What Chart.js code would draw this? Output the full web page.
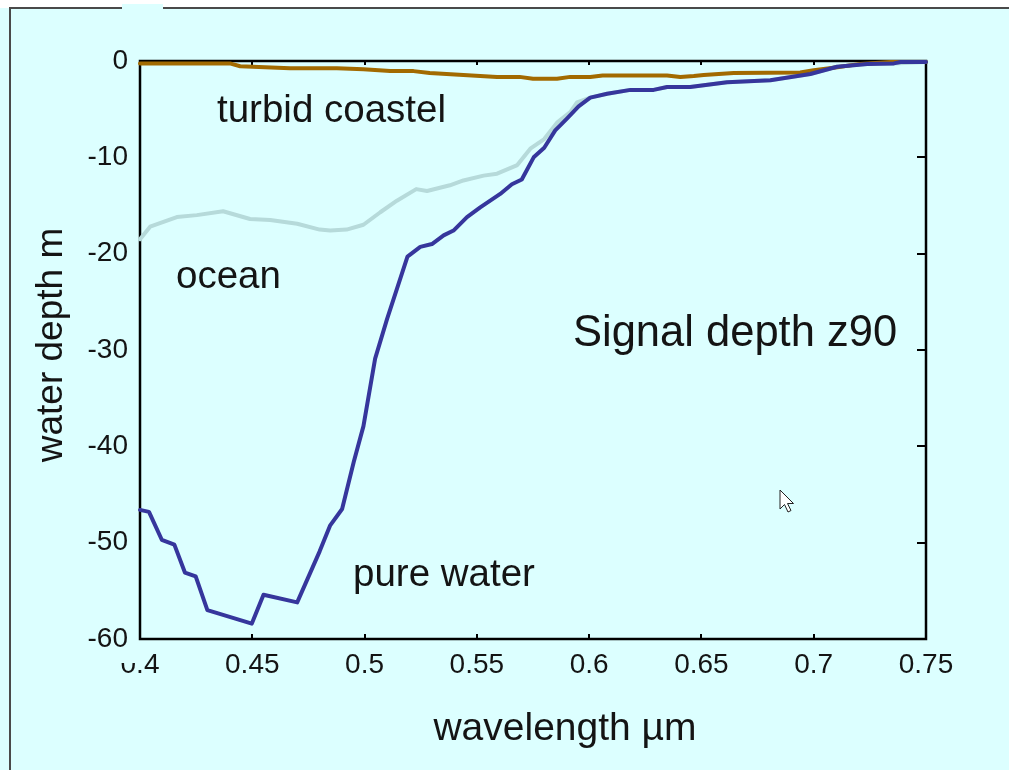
<!DOCTYPE html>
<html>
<head>
<meta charset="utf-8">
<script src="https://cdn.jsdelivr.net/npm/chart.js@4.4.1/dist/chart.umd.min.js"></script>
<style>
  html, body { margin: 0; padding: 0; background: #dcffff; }
  canvas { display: block; }
</style>
</head>
<body>
<canvas id="chart-z90" width="1009" height="770"></canvas>
<script>
// signal depth z90 (m) vs wavelength (µm)
const xTicks = [0.4, 0.45, 0.5, 0.55, 0.6, 0.65, 0.7, 0.75];
const xTickLabels = ['0.4', '0.45', '0.5', '0.55', '0.6', '0.65', '0.7', '0.75'];
const yTicks = [0, -10, -20, -30, -40, -50, -60];
const yTickLabels = ['0', '-10', '-20', '-30', '-40', '-50', '-60'];

const pureWaterWl = [0.400, 0.404, 0.4097, 0.4153, 0.420, 0.4248, 0.430, 0.4498, 0.455, 0.470, 0.480, 0.4847, 0.490,
  0.4952, 0.4995, 0.5047, 0.510, 0.5191, 0.5248, 0.530, 0.5352, 0.5396, 0.5456, 0.5515, 0.5604, 0.5656, 0.570,
  0.5753, 0.580, 0.5849, 0.590, 0.5953, 0.6005, 0.608, 0.6184, 0.6287, 0.6347, 0.645, 0.6614, 0.6807, 0.6985,
  0.7104, 0.7238, 0.7357, 0.7387, 0.750];
const pureWaterDepth = [-46.6, -46.8, -49.7, -50.2, -53.1, -53.5, -57.0, -58.4, -55.4, -56.2, -50.9, -48.2, -46.5,
  -41.6, -37.9, -30.9, -26.8, -20.3, -19.3, -19.0, -18.1, -17.6, -16.2, -15.2, -13.8, -12.8, -12.3,
  -10.0, -9.0, -7.2, -6.0, -4.7, -3.8, -3.4, -3.0, -3.0, -2.7, -2.7, -2.2, -2.0, -1.35,
  -0.6, -0.3, -0.25, -0.1, -0.1];

const oceanWl = [0.400, 0.4045, 0.4164, 0.4253, 0.437, 0.449, 0.458, 0.470, 0.480, 0.4847, 0.492, 0.4995, 0.507,
  0.5144, 0.523, 0.5278, 0.538, 0.544, 0.553, 0.559, 0.568, 0.5738, 0.580, 0.5857, 0.5916, 0.5946, 0.6005,
  0.608, 0.6184, 0.6287, 0.6347, 0.645, 0.6614, 0.6807, 0.6985, 0.7104, 0.7238, 0.7357, 0.750];
const oceanDepth = [-18.5, -17.2, -16.2, -16.0, -15.6, -16.4, -16.5, -16.9, -17.5, -17.6, -17.5, -17.0, -15.7,
  -14.5, -13.3, -13.5, -12.9, -12.4, -11.9, -11.7, -10.8, -9.1, -8.1, -6.4, -5.3, -4.3, -3.8,
  -3.4, -3.0, -3.0, -2.7, -2.7, -2.2, -2.0, -1.35, -0.6, -0.3, -0.25, -0.1];

const turbidWl = [0.400, 0.440, 0.4446, 0.4668, 0.4877, 0.4995, 0.5114, 0.5218, 0.529, 0.544, 0.559, 0.569, 0.575,
  0.5857, 0.5916, 0.6005, 0.606, 0.6347, 0.6406, 0.6466, 0.651, 0.6644, 0.694, 0.700, 0.7105, 0.7208, 0.7342, 0.750];
const turbidDepth = [-0.25, -0.25, -0.55, -0.75, -0.75, -0.85, -1.05, -1.05, -1.25, -1.45, -1.65, -1.65, -1.85,
  -1.85, -1.65, -1.65, -1.5, -1.5, -1.65, -1.55, -1.45, -1.25, -1.2, -0.95, -0.65, -0.3, -0.1, -0.1];

const COLORS = {
  page: '#dcffff',
  pure: '#36369c',
  ocean: '#b6dada',
  turbid: '#a26a00',
  ink: '#141414',
};
const FONT = '"Liberation Sans", Arial, sans-serif';

const toPoints = (xs, ys) => xs.map((x, i) => ({ x, y: ys[i] }));

// page background, the window frame and the plot frame with inward ticks
const framePlugin = {
  id: 'frame',
  beforeDraw(chart) {
    const { ctx, width, height } = chart;
    ctx.save();
    ctx.fillStyle = COLORS.page;
    ctx.fillRect(0, 0, width, height);
    ctx.fillStyle = '#ffffff';
    ctx.fillRect(0, 0, width, 8);
    ctx.fillStyle = COLORS.page;
    ctx.fillRect(122, 4, 41, 5);
    ctx.strokeStyle = '#4a4a4a';
    ctx.lineWidth = 2;
    ctx.beginPath();
    ctx.moveTo(10, height);
    ctx.lineTo(10, 8);
    ctx.lineTo(122, 8);
    ctx.moveTo(163, 8);
    ctx.lineTo(width, 8);
    ctx.stroke();
    ctx.restore();
  },
  beforeDatasetsDraw(chart) {
    const { ctx, chartArea: a, scales } = chart;
    ctx.save();
    ctx.strokeStyle = '#000';
    ctx.lineWidth = 2.5;
    ctx.strokeRect(a.left, a.top, a.right - a.left, a.bottom - a.top);
    ctx.lineWidth = 2;
    ctx.beginPath();
    xTicks.slice(1, -1).forEach((v) => {
      const px = Math.round(scales.x.getPixelForValue(v));
      ctx.moveTo(px, a.top);
      ctx.lineTo(px, a.top + 4);
      ctx.moveTo(px, a.bottom);
      ctx.lineTo(px, a.bottom - 5);
    });
    yTicks.slice(1, -1).forEach((v) => {
      const py = Math.round(scales.y.getPixelForValue(v));
      ctx.moveTo(a.right, py);
      ctx.lineTo(a.right - 9, py);
    });
    ctx.stroke();
    ctx.restore();
  },
  afterDraw(chart) {
    const { ctx } = chart;
    ctx.save();
    // the first x label is half hidden in the original
    ctx.fillStyle = COLORS.page;
    ctx.fillRect(112, 651, 25, 12);

    ctx.fillStyle = COLORS.ink;
    ctx.textBaseline = 'alphabetic';
    ctx.textAlign = 'left';
    ctx.font = `38.5px ${FONT}`;
    ctx.fillText('turbid coastel', 217, 122);
    ctx.fillText('ocean', 176, 288);
    ctx.fillText('pure water', 353, 586);
    ctx.font = `43.5px ${FONT}`;
    ctx.fillText('Signal depth z90', 573, 346);

    ctx.font = `39px ${FONT}`;
    ctx.textAlign = 'center';
    ctx.fillText('wavelength µm', 565, 740);
    ctx.font = `37px ${FONT}`;
    ctx.translate(62, 345);
    ctx.rotate(-Math.PI / 2);
    ctx.fillText('water depth m', 0, 0);
    ctx.restore();

    // mouse pointer left in the screenshot
    ctx.save();
    ctx.translate(780, 490);
    ctx.beginPath();
    ctx.moveTo(0, 0);
    ctx.lineTo(0, 19);
    ctx.lineTo(4.5, 14.5);
    ctx.lineTo(8, 22);
    ctx.lineTo(11, 20.5);
    ctx.lineTo(7.5, 13.5);
    ctx.lineTo(13.5, 13.5);
    ctx.closePath();
    ctx.fillStyle = '#fff';
    ctx.fill();
    ctx.strokeStyle = '#222';
    ctx.lineWidth = 1;
    ctx.stroke();
    ctx.restore();
  },
};

const lineSet = (label, xs, ys, color) => ({
  label,
  data: toPoints(xs, ys),
  borderColor: color,
  backgroundColor: color,
  borderWidth: 4,
  pointRadius: 0,
  tension: 0,
  fill: false,
  clip: false,
  borderJoinStyle: 'round',
  borderCapStyle: 'round',
});

const canvas = document.getElementById('chart-z90');
new Chart(canvas.getContext('2d'), {
  type: 'line',
  data: {
    datasets: [
      lineSet('pure water', pureWaterWl, pureWaterDepth, COLORS.pure),
      lineSet('turbid coastel', turbidWl, turbidDepth, COLORS.turbid),
      lineSet('ocean', oceanWl, oceanDepth, COLORS.ocean),
    ],
  },
  options: {
    responsive: false,
    animation: false,
    layout: { padding: { top: 61, right: 83, bottom: 0, left: 0 } },
    plugins: { legend: { display: false }, tooltip: { enabled: false } },
    scales: {
      x: {
        type: 'linear',
        position: 'bottom',
        min: 0.4,
        max: 0.75,
        afterBuildTicks: (scale) => { scale.ticks = xTicks.map((value) => ({ value })); },
        afterFit: (scale) => { scale.height = 131; },
        grid: { display: false, drawTicks: false, tickLength: 0 },
        border: { display: false },
        ticks: {
          autoSkip: false,
          maxRotation: 0,
          padding: 9,
          color: COLORS.ink,
          font: { family: FONT, size: 28 },
          callback: (value, index) => xTickLabels[index],
        },
      },
      y: {
        type: 'linear',
        position: 'left',
        min: -60,
        max: 0,
        afterBuildTicks: (scale) => { scale.ticks = yTicks.map((value) => ({ value })); },
        afterFit: (scale) => { scale.width = 140; },
        grid: { display: false, drawTicks: false, tickLength: 0 },
        border: { display: false },
        ticks: {
          autoSkip: false,
          padding: 12,
          color: COLORS.ink,
          font: { family: FONT, size: 28 },
          callback: (value, index) => yTickLabels[index],
        },
      },
    },
  },
  plugins: [framePlugin],
});
</script>
</body>
</html>
